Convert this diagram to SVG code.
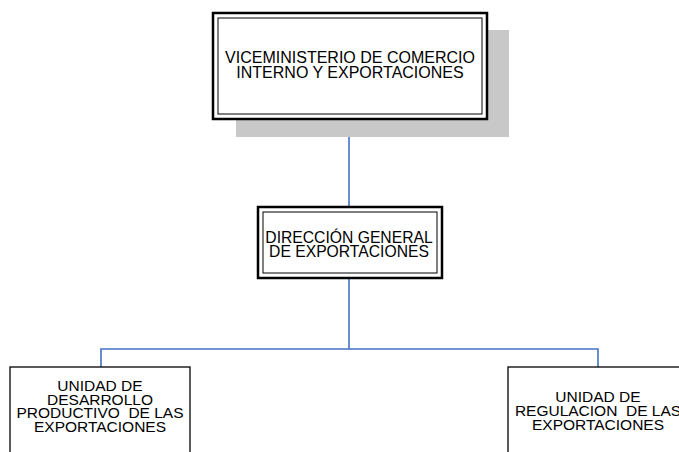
<svg xmlns="http://www.w3.org/2000/svg" width="679" height="452" viewBox="0 0 679 452">
<style>
.t{font-family:"Liberation Sans",Arial,sans-serif;fill:#000;text-anchor:middle}
.outer{fill:none;stroke:#000;stroke-width:2.5}
.inner{fill:none;stroke:#000;stroke-width:1}
.box{fill:#fff;stroke:#000;stroke-width:1.3}
.c{fill:none;stroke:#4472c4;stroke-width:1.6}
</style>
<rect width="679" height="452" fill="#fff"/>
<g id="connectors">
<line class="c" x1="349" y1="119" x2="349" y2="207"/>
<line class="c" x1="349" y1="278" x2="349" y2="349"/>
<polyline class="c" points="101,367 101,349 598,349 598,367"/>
</g>
<g id="viceministerio">
<rect x="236" y="30" width="273" height="107" fill="#c8c8c8"/>
<rect x="213" y="13" width="274" height="106" fill="#fff"/>
<rect class="outer" x="213" y="13" width="274" height="106"/>
<rect class="inner" x="218" y="18" width="264" height="96"/>
<text class="t" font-size="16"><tspan x="350" y="63">VICEMINISTERIO DE COMERCIO</tspan><tspan x="350" y="78">INTERNO Y EXPORTACIONES</tspan></text>
</g>
<g id="direccion">
<rect x="258" y="207" width="184" height="71" fill="#fff"/>
<rect class="outer" x="258" y="207" width="184" height="71"/>
<rect class="inner" x="263" y="212" width="174" height="61"/>
<text class="t" font-size="15.7"><tspan x="349" y="243">DIRECCIÓN GENERAL</tspan><tspan x="349" y="257">DE EXPORTACIONES</tspan></text>
</g>
<g id="unidad-desarrollo">
<rect class="box" x="10" y="367" width="180" height="95"/>
<text class="t" font-size="15.5" xml:space="preserve"><tspan x="100" y="391">UNIDAD DE</tspan><tspan x="100" y="404.5">DESARROLLO</tspan><tspan x="100" y="418">PRODUCTIVO  DE LAS</tspan><tspan x="100" y="431.5">EXPORTACIONES</tspan></text>
</g>
<g id="unidad-regulacion">
<rect class="box" x="508" y="367" width="190" height="95"/>
<text class="t" font-size="15.5" xml:space="preserve"><tspan x="598" y="402">UNIDAD DE</tspan><tspan x="598" y="416">REGULACION  DE LAS</tspan><tspan x="598" y="430">EXPORTACIONES</tspan></text>
</g>
</svg>
